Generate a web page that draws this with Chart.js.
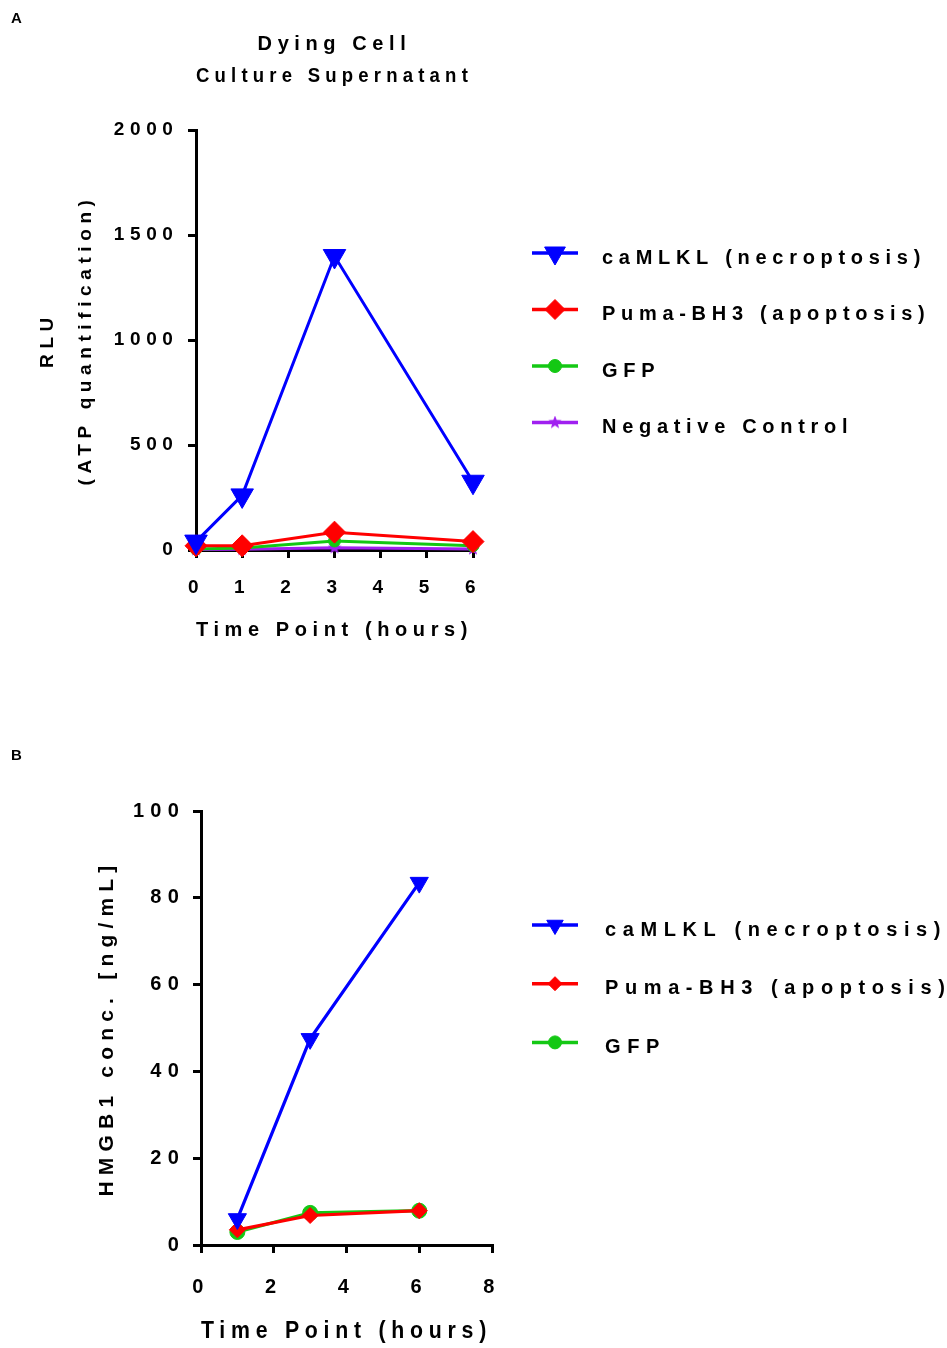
<!DOCTYPE html>
<html><head><meta charset="utf-8">
<script src="https://cdn.jsdelivr.net/npm/chart.js@4"></script>
<style>
html,body{margin:0;padding:0;background:#fff;}
body{width:947px;height:1348px;position:relative;overflow:hidden;font-family:'Liberation Sans',Arial,sans-serif;}
.panel{position:absolute;left:11px;font-weight:bold;font-size:15px;line-height:1;color:#000;}
canvas{position:absolute;left:0;}
</style></head><body>
<canvas id="cA" width="947" height="680" style="top:0"></canvas>
<canvas id="cB" width="947" height="668" style="top:680px"></canvas>
<div class="panel" style="top:10px">A</div>
<div class="panel" style="top:747px">B</div>
<script>
// ---------- Panel A data ----------
const timesA = [0, 1, 3, 6];
const caMLKL_A = [40, 260, 1400, 325];
const puma_A = [20, 20, 85, 40];
const gfp_A = [5, 10, 43, 20];
const negCtrl_A = [2, 3, 11, 5];
const yTicksA = [0, 500, 1000, 1500, 2000];
const xTicksA = [0, 1, 2, 3, 4, 5, 6];

// ---------- Panel B data ----------
const timesB = [1, 3, 6];
const caMLKL_B = [6, 47.5, 83.5];
const puma_B = [3.5, 6.8, 7.9];
const gfp_B = [3.0, 7.4, 7.9];
const yTicksB = [0, 20, 40, 60, 80, 100];
const xTicksB = [0, 2, 4, 6, 8];

const labels = ['caMLKL (necroptosis)', 'Puma-BH3 (apoptosis)', 'GFP', 'Negative Control'];

const FAMILY = "'Liberation Sans', Arial, sans-serif";
Chart.defaults.font.family = FAMILY;
Chart.defaults.color = '#000';

const BLUE = '#0000FF', RED = '#FF0000', GREEN = '#14C814', PURPLE = '#A020F0';

// filled five-point star used as a point style
function makeStar(size, color) {
  const cv = document.createElement('canvas');
  cv.width = size; cv.height = size;
  const g = cv.getContext('2d');
  const cx = size / 2, cy = size / 2, R = size / 2, r = R * 0.42;
  g.beginPath();
  for (let k = 0; k < 10; k++) {
    const rad = -Math.PI / 2 + k * Math.PI / 5;
    const rr = k % 2 === 0 ? R : r;
    g.lineTo(cx + Math.cos(rad) * rr, cy + Math.sin(rad) * rr);
  }
  g.closePath();
  g.fillStyle = color; g.fill();
  return cv;
}
const STAR = makeStar(14, PURPLE);

function ds(label, xs, ys, color, style, radius, rotation, lw, pbw) {
  return {
    label,
    data: xs.map((x, i) => ({x: x, y: ys[i]})),
    borderColor: color, backgroundColor: color,
    pointBackgroundColor: color, pointBorderColor: color,
    pointStyle: style, pointRadius: radius, pointHoverRadius: radius,
    pointRotation: rotation || 0, borderWidth: lw, pointBorderWidth: pbw,
    tension: 0, clip: false
  };
}

const spacingPlugin = {
  id: 'spacing',
  beforeLayout(c, a, o) { c.ctx.letterSpacing = o.ls; },
  beforeDraw(c, a, o) { c.ctx.letterSpacing = o.ls; }
};

function ownPoint(ctx, style, r, rot, x, y) {
  if (Chart.helpers && Chart.helpers.drawPoint) {
    Chart.helpers.drawPoint(ctx, {pointStyle: style, radius: r, rotation: rot, borderWidth: ctx.lineWidth}, x, y);
  }
}

const sideLegend = {
  id: 'sideLegend',
  afterDraw(c, a, o) {
    const ctx = c.ctx;
    c.data.datasets.forEach((d, i) => {
      const y = o.y0 + i * o.dy;
      ctx.save();
      ctx.letterSpacing = '0px';
      ctx.strokeStyle = d.borderColor; ctx.fillStyle = d.borderColor;
      ctx.lineWidth = o.lw;
      ctx.beginPath(); ctx.moveTo(o.x1, y); ctx.lineTo(o.x2, y); ctx.stroke();
      ctx.lineWidth = 1;
      ownPoint(ctx, d.pointStyle, o.radii[i], d.pointRotation, (o.x1 + o.x2) / 2, y);
      ctx.fillStyle = '#000';
      ctx.font = o.font;
      ctx.letterSpacing = o.ls;
      ctx.textBaseline = 'middle';
      ctx.textAlign = 'left';
      ctx.fillText(d.label, o.tx, y + o.textDy);
      ctx.restore();
    });
  }
};

function axisCommon(extra) {
  return Object.assign({
    grid: {display: true, drawOnChartArea: false, drawTicks: true, tickLength: 8, lineWidth: 3, color: '#000', tickColor: '#000'},
    border: {display: true, color: '#000', width: 3}
  }, extra);
}
const plain = v => String(v);

// ---------- Chart A ----------
new Chart(document.getElementById('cA'), {
  type: 'line',
  data: {
    datasets: [
      ds(labels[0], timesA, caMLKL_A, BLUE, 'triangle', 13, 180, 3, 1),
      ds(labels[1], timesA, puma_A, RED, 'rectRot', 11, 0, 3, 1),
      ds(labels[2], timesA, gfp_A, GREEN, 'circle', 6, 0, 3, 1),
      ds(labels[3], timesA, negCtrl_A, PURPLE, STAR, 7, 0, 3, 1)
    ]
  },
  options: {
    responsive: false, animation: false, events: [],
    layout: {padding: {top: 0, left: 0, right: 474, bottom: 30}},
    plugins: {
      legend: {display: false}, tooltip: {enabled: false},
      title: {display: true, text: ['Dying Cell', 'Culture Supernatant'], fullSize: false,
        font: {size: 20, weight: 'bold', lineHeight: '32px'}, padding: {top: 28, bottom: 38}, color: '#000'},
      spacing: {ls: '5.6px'},
      sideLegend: {x1: 532, x2: 578, tx: 602, y0: 253, dy: 56.5, textDy: 5, lw: 3.5,
        font: "bold 20px " + FAMILY, ls: '5.7px', radii: [12, 10, 6.5, 7]}
    },
    scales: {
      x: axisCommon({type: 'linear', min: xTicksA[0], max: xTicksA[xTicksA.length - 1],
        afterBuildTicks: s => { s.ticks = xTicksA.map(v => ({value: v})); },
        afterFit: s => { s.height = 100; },
        ticks: {font: {size: 19, weight: 'bold'}, padding: 18.5, color: '#000', callback: plain},
        title: {display: true, text: 'Time Point (hours)', font: {size: 20, weight: 'bold'}, padding: {top: 0, bottom: 8}, color: '#000'}}),
      y: axisCommon({type: 'linear', min: yTicksA[0], max: yTicksA[yTicksA.length - 1],
        afterBuildTicks: s => { s.ticks = yTicksA.map(v => ({value: v})); },
        afterFit: s => { s.width = 196; },
        ticks: {font: {size: 19, weight: 'bold'}, padding: 9.5, color: '#000', callback: plain},
        title: {display: true, text: ['RLU', '(ATP quantification)'], font: {size: 19, weight: 'bold', lineHeight: '38px'}, padding: {top: 29, bottom: 0}, color: '#000'}})
    }
  },
  plugins: [spacingPlugin, sideLegend]
});

// ---------- Chart B ----------
new Chart(document.getElementById('cB'), {
  type: 'line',
  data: {
    datasets: [
      ds(labels[0], timesB, caMLKL_B, BLUE, 'triangle', 10.5, 180, 3.2, 1),
      ds(labels[1], timesB, puma_B, RED, 'rectRot', 8, 0, 3.2, 1),
      ds(labels[2], timesB, gfp_B, GREEN, 'circle', 7.5, 0, 3.2, 1)
    ]
  },
  options: {
    responsive: false, animation: false, events: [],
    layout: {padding: {top: 131, left: 0, right: 455, bottom: 3}},
    plugins: {
      legend: {display: false}, tooltip: {enabled: false}, title: {display: false},
      spacing: {ls: '6.2px'},
      sideLegend: {x1: 532, x2: 578, tx: 605, y0: 245, dy: 58.7, textDy: 5, lw: 3.5,
        font: "bold 20px " + FAMILY, ls: '6.6px', radii: [9.5, 7, 6.5]}
    },
    scales: {
      x: axisCommon({type: 'linear', min: xTicksB[0], max: xTicksB[xTicksB.length - 1],
        afterBuildTicks: s => { s.ticks = xTicksB.map(v => ({value: v})); },
        afterFit: s => { s.height = 100; },
        ticks: {font: {size: 20, weight: 'bold'}, padding: 22, color: '#000', callback: plain},
        title: {display: true, text: 'Time Point (hours)', font: {size: 23, weight: 'bold'}, padding: {top: 0, bottom: 0}, color: '#000'}}),
      y: axisCommon({type: 'linear', min: yTicksB[0], max: yTicksB[yTicksB.length - 1],
        afterBuildTicks: s => { s.ticks = yTicksB.map(v => ({value: v})); },
        afterFit: s => { s.width = 201; },
        ticks: {font: {size: 20, weight: 'bold'}, padding: 8, color: '#000', callback: plain},
        title: {display: true, text: 'HMGB1 conc. [ng/mL]', font: {size: 21, weight: 'bold'}, padding: {top: 94.5, bottom: 0}, color: '#000'}})
    }
  },
  plugins: [spacingPlugin, sideLegend]
});
</script>
</body></html>
